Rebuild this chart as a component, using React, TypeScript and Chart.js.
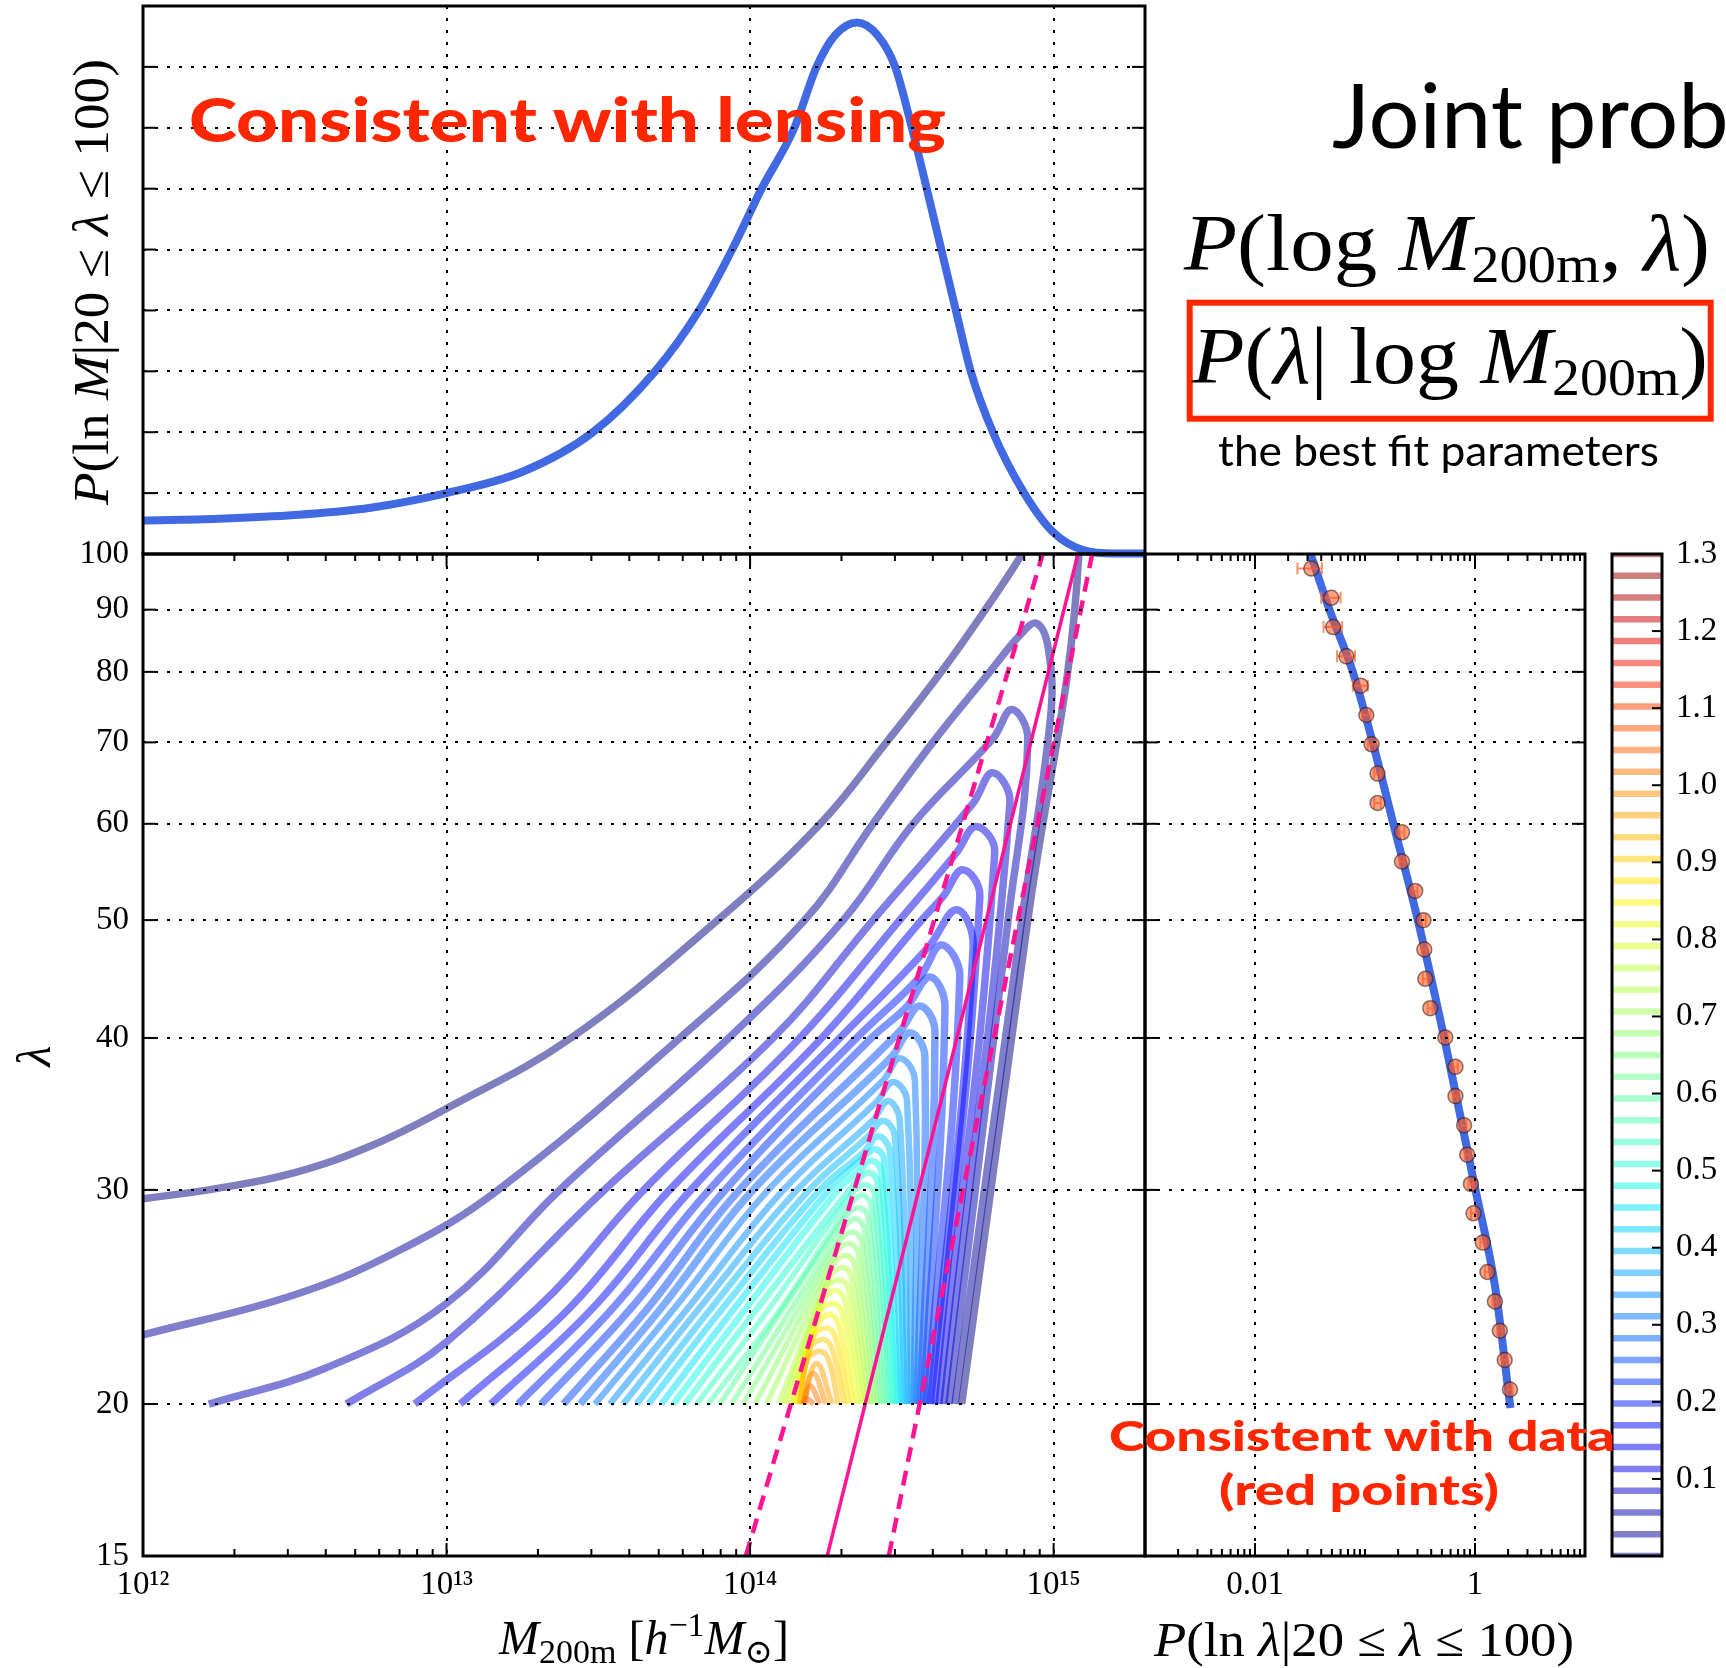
import React, { useEffect, useRef } from "react";
import { Chart, registerables } from "chart.js";

Chart.register(...registerables);

const SERIF = "'Liberation Serif', 'DejaVu Serif', serif";
const SANS = "Lato, 'Open Sans', 'Noto Sans', sans-serif";

// ---------------- top panel: P(ln M | 20 <= lambda <= 100) ----------------
const TOP_LOG_M = [12.0, 12.25, 12.5, 12.75, 13.0, 13.25, 13.482, 13.687, 13.832, 13.941, 14.038, 14.146, 14.219, 14.28, 14.352, 14.42, 14.478, 14.533, 14.582, 14.63, 14.678, 14.727, 14.8, 14.903, 15.0, 15.1, 15.2, 15.301];
const TOP_P = [0.055, 0.058, 0.064, 0.076, 0.1, 0.135, 0.2, 0.3, 0.4, 0.5, 0.6, 0.7, 0.8, 0.852, 0.873, 0.852, 0.8, 0.7, 0.6, 0.5, 0.4, 0.3, 0.2, 0.1, 0.035, 0.006, 0.001, 0.001];
const TOP_Y_GRID = [0.1, 0.2, 0.3, 0.4, 0.5, 0.6, 0.7, 0.8];

// ---------------- contour levels (colour bar) ----------------
const CONTOUR_LEVELS = [0, 0.0283, 0.0565, 0.0848, 0.113, 0.1413, 0.1696, 0.1978, 0.2261, 0.2543, 0.2826, 0.3109, 0.3391, 0.3674, 0.3957, 0.4239, 0.4522, 0.4804, 0.5087, 0.537, 0.5652, 0.5935, 0.6217, 0.65, 0.6783, 0.7065, 0.7348, 0.763, 0.7913, 0.8196, 0.8478, 0.8761, 0.9043, 0.9326, 0.9609, 0.9891, 1.0174, 1.0457, 1.0739, 1.1022, 1.1304, 1.1587, 1.187, 1.2152, 1.2435, 1.2717, 1.3];
const CBAR_TICKS = [0.1, 0.2, 0.3, 0.4, 0.5, 0.6, 0.7, 0.8, 0.9, 1.0, 1.1, 1.2, 1.3];

// ---------------- contour lines of P(log M, lambda): [log10 M, lambda] ----------------
// left branch (start at lambda=20 or left edge, grid-line crossings, knee)
const CONTOUR_LEFT = [
  [[12.0, 29.5], [12.25, 30.1], [12.5, 31.0], [12.75, 32.6], [13.0, 35.0], [13.41, 40], [13.893, 50], [14.231, 60], [14.449, 70], [14.63, 80], [14.775, 90], [14.896, 100]],
  [[12.0, 22.8], [12.5, 24.6], [12.85, 26.8], [13.17, 30], [13.769, 40], [14.18, 50], [14.405, 60], [14.602, 70], [14.79, 80], [14.89, 85.8]],
  [[12.217, 20], [12.6, 21.4], [13.0, 24.2], [13.373, 30], [13.93, 40], [14.307, 50], [14.537, 60], [14.8, 70.5]],
  [[12.67, 20], [13.0, 22.5], [13.52, 30], [14.076, 40], [14.405, 50], [14.735, 62.4]],
  [[12.895, 20], [13.3, 24], [13.65, 30], [14.164, 40], [14.493, 50], [14.68, 56.8]],
  [[13.045, 20], [13.406, 24], [13.735, 30], [14.236, 40], [14.565, 50], [14.636, 52.3]],
  [[13.146, 20], [13.483, 24], [13.805, 30], [14.296, 40], [14.587, 47.5]],
  [[13.236, 20], [13.549, 24], [13.865, 30], [14.351, 40], [14.559, 44.9]],
  [[13.312, 20], [13.609, 24], [13.918, 30], [14.4, 40], [14.515, 42.4]],
  [[13.385, 20], [13.664, 24], [13.965, 30], [14.493, 40.5]],
  [[13.44, 20], [13.708, 24], [14.01, 30], [14.466, 38.6]],
  [[13.489, 20], [13.752, 24], [14.06, 30], [14.438, 36.9]],
  [[13.538, 20], [13.796, 24], [14.11, 30], [14.419, 35.5]],
  [[13.582, 20], [13.834, 24], [14.155, 30], [14.403, 34.2]],
  [[13.626, 20], [13.873, 24], [14.195, 30], [14.389, 33.2]],
  [[13.665, 20], [13.911, 24], [14.23, 30], [14.373, 32.2]],
  [[13.708, 20], [13.95, 24], [14.26, 30], [14.368, 31.8]],
  [[13.747, 20], [13.988, 24], [14.29, 30], [14.358, 31.1]],
  [[13.785, 20], [14.026, 24], [14.347, 30.4]],
  [[13.824, 20], [14.065, 24], [14.336, 29.8]],
  [[13.862, 20], [14.103, 24], [14.326, 29.1]],
  [[13.9, 20], [14.315, 28.5]],
  [[13.939, 20], [14.304, 27.8]],
  [[13.977, 20], [14.294, 27.2]],
  [[14.016, 20], [14.283, 26.6]],
  [[14.054, 20], [14.272, 26.0]],
  [[14.093, 20], [14.262, 25.4]],
  [[14.11, 20], [14.251, 24.9]],
  [[14.125, 20], [14.24, 24.3]],
  [[14.138, 20], [14.229, 23.8]],
  [[14.148, 20], [14.219, 23.2]],
  [[14.156, 20], [14.208, 22.7]],
  [[14.162, 20], [14.197, 22.2]],
  [[14.167, 20], [14.187, 21.7]],
  [[14.171, 20]],
  [[14.174, 20]],
  [[14.177, 20]],
  [[14.179, 20]],
];
const CONTOUR_PEAK = [
  [14.99, 110], [14.944, 87.7], [14.862, 74.5], [14.798, 66.1], [14.744, 59.7], [14.7, 55.0], [14.68, 51.0], [14.63, 47.7],
  [14.592, 44.9], [14.559, 42.5], [14.526, 40.4], [14.493, 38.5], [14.471, 36.8], [14.455, 35.5], [14.438, 34.2], [14.422, 33.2],
  [14.411, 32.4], [14.401, 31.7], [14.39, 31.0], [14.379, 30.3], [14.369, 29.7], [14.358, 29.0], [14.347, 28.4], [14.337, 27.7],
  [14.326, 27.1], [14.315, 26.5], [14.305, 25.9], [14.294, 25.3], [14.283, 24.8], [14.272, 24.2], [14.262, 23.7], [14.251, 23.1],
  [14.24, 22.6], [14.23, 22.1], [14.219, 21.6], [14.208, 21.2], [14.198, 20.7], [14.187, 20.2],
];
// right branch (shoulder, crossings, end at lambda=20)
const CONTOUR_RIGHT = [
  [[15.083, 100], [14.915, 50], [14.697, 20]],
  [[14.983, 83.5], [14.99, 73.5], [14.895, 50], [14.675, 20]],
  [[14.915, 70.4], [14.85, 50], [14.655, 20]],
  [[14.856, 62.4], [14.638, 20]],
  [[14.806, 56.8], [14.622, 20]],
  [[14.757, 52.3], [14.607, 20]],
  [[14.735, 47.5], [14.594, 20]],
  [[14.691, 44.9], [14.582, 20]],
  [[14.642, 42.4], [14.571, 20]],
  [[14.609, 40.5], [14.56, 20]],
  [[14.576, 38.6], [14.55, 20]],
  [[14.543, 36.9], [14.54, 20]],
  [[14.517, 35.5], [14.53, 20]],
  [[14.493, 34.2], [14.52, 20]],
  [[14.477, 33.2], [14.51, 20]],
  [[14.461, 32.2], [14.5, 20]],
  [[14.441, 31.8], [14.49, 20]],
  [[14.431, 31.1], [14.48, 20]],
  [[14.42, 30.4], [14.47, 20]],
  [[14.409, 29.8], [14.46, 20]],
  [[14.399, 29.1], [14.45, 20]],
  [[14.388, 28.5], [14.44, 20]],
  [[14.377, 27.8], [14.43, 20]],
  [[14.367, 27.2], [14.42, 20]],
  [[14.356, 26.6], [14.41, 20]],
  [[14.345, 26.0], [14.4, 20]],
  [[14.335, 25.4], [14.39, 20]],
  [[14.324, 24.9], [14.38, 20]],
  [[14.313, 24.3], [14.37, 20]],
  [[14.302, 23.8], [14.355, 20]],
  [[14.292, 23.2], [14.34, 20]],
  [[14.281, 22.7], [14.325, 20]],
  [[14.27, 22.2], [14.31, 20]],
  [[14.26, 21.7], [14.29, 20]],
  [[14.27, 20]],
  [[14.25, 20]],
  [[14.23, 20]],
  [[14.21, 20]],
];

// mean relation and its scatter (pink lines)
const PINK_LAMBDA = [15, 100];
const PINK_SOLID_LOGM = [14.254, 15.08];
const PINK_DASH_LO_LOGM = [13.986, 14.964];
const PINK_DASH_HI_LOGM = [14.457, 15.127];

// ---------------- right panel: P(ln lambda | 20 <= lambda <= 100) ----------------
const RIGHT_CURVE_P = [0.032, 0.0475, 0.0775, 0.1175, 0.181, 0.302, 0.525, 1.01, 1.52, 2.1];
const RIGHT_CURVE_LAMBDA = [100, 90, 80, 70, 60, 50, 40, 30, 25, 19.85];
const DATA_LAMBDA = [20.56, 21.74, 22.98, 24.29, 25.68, 27.15, 28.7, 30.34, 32.07, 33.9, 35.83, 37.87, 40.04, 42.32, 44.74, 47.29, 49.99, 52.84, 55.86, 59.04, 62.41, 65.98, 69.74, 73.72, 77.93, 82.38, 87.08, 92.04, 97.28];
const DATA_P = [2.08, 1.862, 1.681, 1.518, 1.296, 1.178, 0.969, 0.918, 0.849, 0.796, 0.664, 0.664, 0.537, 0.392, 0.354, 0.346, 0.34, 0.286, 0.217, 0.217, 0.13, 0.13, 0.1148, 0.1028, 0.0914, 0.0678, 0.0514, 0.0494, 0.0325];
const DATA_P_LO = [1.976, 1.769, 1.597, 1.442, 1.231, 1.119, 0.921, 0.872, 0.807, 0.756, 0.631, 0.631, 0.51, 0.372, 0.336, 0.329, 0.323, 0.272, 0.206, 0.206, 0.121, 0.121, 0.106, 0.094, 0.0775, 0.0557, 0.042, 0.04, 0.0243];
const DATA_P_HI = [2.184, 1.955, 1.765, 1.594, 1.361, 1.237, 1.017, 0.964, 0.891, 0.836, 0.697, 0.697, 0.564, 0.412, 0.372, 0.363, 0.357, 0.3, 0.228, 0.228, 0.139, 0.139, 0.124, 0.112, 0.106, 0.0811, 0.062, 0.06, 0.0406];

// ---------------- axes ----------------
const MAIN_X_TICKS = [1e12, 1e13, 1e14, 1e15];
const MAIN_X_LABELS = ["10\u00b9\u00b2", "10\u00b9\u00b3", "10\u00b9\u2074", "10\u00b9\u2075"];
const MAIN_Y_TICKS = [15, 20, 30, 40, 50, 60, 70, 80, 90, 100];
const LAMBDA_GRID = [20, 30, 40, 50, 60, 70, 80, 90];
const RIGHT_X_TICKS = [0.01, 1];
const RIGHT_X_LABELS = ["0.01", "1"];

function logMinors(d0: number, d1: number, max: number) {
  const out: number[] = [];
  for (let d = d0; d <= d1; d++) for (let m = 2; m <= 9; m++) { const v = m * Math.pow(10, d); if (v < max) out.push(v); }
  return out;
}

// matplotlib "jet" colormap
const JET_R = [[0, 0], [0.35, 0], [0.66, 1], [0.89, 1], [1, 0.5]];
const JET_G = [[0, 0], [0.125, 0], [0.375, 1], [0.64, 1], [0.91, 0], [1, 0]];
const JET_B = [[0, 0.5], [0.11, 1], [0.34, 1], [0.65, 0], [1, 0]];
function seg(s: number[][], t: number) {
  for (let i = 0; i < s.length - 1; i++) {
    const [x0, y0] = s[i];
    const [x1, y1] = s[i + 1];
    if (t <= x1) return y0 + ((y1 - y0) * (t - x0)) / (x1 - x0);
  }
  return s[s.length - 1][1];
}
function jet(t: number, a: number) {
  const c = Math.max(0, Math.min(1, t));
  return `rgba(${Math.round(255 * seg(JET_R, c))},${Math.round(255 * seg(JET_G, c))},${Math.round(255 * seg(JET_B, c))},${a})`;
}

const pt = (lm: number, l: number) => ({ x: Math.pow(10, lm), y: l });

// force exact axis box sizes, no automatic label padding
const fitTo = (dim: "width" | "height", size: number) => (s: any) => {
  s[dim] = size;
  s.paddingTop = 0; s.paddingBottom = 0; s.paddingLeft = 0; s.paddingRight = 0;
};

function framePlugin(o: any) {
  return {
    id: "frame",
    afterDatasetsDraw(chart: any) {
      const { ctx, chartArea: a } = chart;
      const xs = chart.scales.x;
      const ys = chart.scales.y;
      const line = (x0: number, y0: number, x1: number, y1: number) => {
        ctx.beginPath();
        ctx.moveTo(x0, y0);
        ctx.lineTo(x1, y1);
        ctx.stroke();
      };
      ctx.save();
      ctx.strokeStyle = "#000";
      ctx.lineWidth = 2;
      ctx.setLineDash([3, 9]);
      (o.xGrid || []).forEach((v: number) => { const p = Math.round(xs.getPixelForValue(v)); line(p, a.top, p, a.bottom); });
      (o.yGrid || []).forEach((v: number) => { const p = Math.round(ys.getPixelForValue(v)); line(a.left, p, a.right, p); });
      ctx.setLineDash([]);
      ctx.lineWidth = 2;
      const xt = (vals: number[], len: number) => vals.forEach((v) => {
        const p = xs.getPixelForValue(v);
        if ((o.xSides || []).includes("bottom")) line(p, a.bottom, p, a.bottom - len);
        if ((o.xSides || []).includes("top")) line(p, a.top, p, a.top + len);
      });
      const yt = (vals: number[], len: number) => vals.forEach((v) => {
        const p = ys.getPixelForValue(v);
        if ((o.ySides || []).includes("left")) line(a.left, p, a.left + len, p);
        if ((o.ySides || []).includes("right")) line(a.right, p, a.right - len, p);
      });
      xt(o.xMajor || [], 13);
      xt(o.xMinor || [], 7);
      yt(o.yMajor || [], o.yLen || 13);
      ctx.lineWidth = 3;
      ctx.strokeRect(a.left, a.top, a.right - a.left, a.bottom - a.top);
      ctx.restore();
    },
  };
}

const baseOptions = (padding: any) => ({
  animation: false as const,
  responsive: false,
  devicePixelRatio: 1,
  events: [] as any[],
  layout: { padding, autoPadding: false },
  plugins: { legend: { display: false }, tooltip: { enabled: false } },
  elements: { point: { radius: 0 }, line: { capBezierPoints: false } },
});

const tickFont = { family: SERIF, size: 33 };

export default function App() {
  const topRef = useRef<HTMLCanvasElement>(null);
  const mainRef = useRef<HTMLCanvasElement>(null);
  const rightRef = useRef<HTMLCanvasElement>(null);
  const cbarRef = useRef<HTMLCanvasElement>(null);

  useEffect(() => {
    const charts: any[] = [];

    // ---- top panel ----
    charts.push(new Chart(topRef.current as any, {
      type: "line",
      data: {
        datasets: [{
          data: TOP_LOG_M.map((lm, i) => pt(lm, TOP_P[i])),
          borderColor: "#4169e1", borderWidth: 8, pointRadius: 0, cubicInterpolationMode: "monotone", clip: 8, fill: false,
        }],
      },
      options: {
        ...baseOptions({ left: 0, top: 6, right: 15, bottom: 6 }),
        scales: {
          x: {
            type: "logarithmic", min: 1e12, max: 2e15,
            grid: { display: false, drawTicks: false }, border: { display: false },
            ticks: { display: false },
            afterFit: fitTo("height", 0),
          },
          y: {
            type: "linear", min: 0, max: 0.9,
            grid: { display: false, drawTicks: false }, border: { display: false },
            ticks: { display: false },
            afterFit: fitTo("width", 143),
          },
        },
      } as any,
      plugins: [framePlugin({ xGrid: [1e13, 1e14, 1e15], yGrid: TOP_Y_GRID, yMajor: TOP_Y_GRID, ySides: ["left", "right"] })],
    } as any));

    // ---- main panel ----
    const contourSets = CONTOUR_PEAK.map((peak, k) => ({
      data: [...CONTOUR_LEFT[k], peak, ...CONTOUR_RIGHT[k]].map((p: any) => pt(p[0], p[1])),
      borderColor: jet(CONTOUR_LEVELS[k] / 1.3, 0.5),
      borderWidth: k <= 10 ? 7.5 : k <= 18 ? 6.5 : 5.5,
      tension: 0.4, pointRadius: 0, clip: 0, fill: false, order: 200 - k,
      borderCapStyle: "butt", borderJoinStyle: "round",
    }));
    const pink = (lms: number[], dash: number[], w: number) => ({
      data: lms.map((lm, i) => pt(lm, PINK_LAMBDA[i])),
      borderColor: "rgb(255,20,147)", borderWidth: w, borderDash: dash, tension: 0, pointRadius: 0, clip: 0, fill: false, order: 0,
    });
    charts.push(new Chart(mainRef.current as any, {
      type: "line",
      data: {
        datasets: [
          ...contourSets,
          pink(PINK_SOLID_LOGM, [], 3.5),
          pink(PINK_DASH_LO_LOGM, [15, 9], 4.5),
          pink(PINK_DASH_HI_LOGM, [15, 9], 4.5),
        ],
      },
      options: {
        ...baseOptions({ left: 0, top: 14, right: 15, bottom: 0 }),
        scales: {
          x: {
            type: "logarithmic", min: 1e12, max: 2e15,
            grid: { display: false, drawTicks: false }, border: { display: false },
            afterBuildTicks: (s: any) => { s.ticks = MAIN_X_TICKS.map((v) => ({ value: v })); },
            afterFit: fitTo("height", 112),
            ticks: {
              font: tickFont, color: "#000", padding: 10, autoSkip: false, maxRotation: 0, minRotation: 0,
              callback: (_v: any, i: number) => MAIN_X_LABELS[i],
            },
          },
          y: {
            type: "logarithmic", min: 15, max: 100,
            grid: { display: false, drawTicks: false }, border: { display: false },
            afterBuildTicks: (s: any) => { s.ticks = MAIN_Y_TICKS.map((v) => ({ value: v })); },
            afterFit: fitTo("width", 143),
            ticks: { font: tickFont, color: "#000", padding: 14, autoSkip: false, callback: (_v: any, i: number) => String(MAIN_Y_TICKS[i]) },
          },
        },
      } as any,
      plugins: [framePlugin({
        xGrid: [1e13, 1e14, 1e15], yGrid: LAMBDA_GRID,
        xMajor: MAIN_X_TICKS, xMinor: logMinors(12, 15, 2e15), xSides: ["bottom", "top"],
        yMajor: LAMBDA_GRID, ySides: ["left", "right"],
      })],
    } as any));

    // ---- right panel ----
    const errorBars = {
      id: "errorBars",
      afterDatasetDraw(chart: any, args: any) {
        if (args.index !== 0) return;
        const { ctx } = chart;
        const xs = chart.scales.x;
        const ys = chart.scales.y;
        ctx.save();
        ctx.strokeStyle = "rgba(255,110,60,0.75)";
        ctx.lineWidth = 2;
        DATA_LAMBDA.forEach((l, i) => {
          const y = ys.getPixelForValue(l);
          const x0 = xs.getPixelForValue(DATA_P_LO[i]);
          const x1 = xs.getPixelForValue(DATA_P_HI[i]);
          ctx.beginPath();
          ctx.moveTo(x0, y); ctx.lineTo(x1, y);
          ctx.moveTo(x0, y - 6); ctx.lineTo(x0, y + 6);
          ctx.moveTo(x1, y - 6); ctx.lineTo(x1, y + 6);
          ctx.stroke();
        });
        ctx.restore();
      },
    };
    charts.push(new Chart(rightRef.current as any, {
      type: "line",
      data: {
        datasets: [
          {
            data: RIGHT_CURVE_P.map((p, i) => ({ x: p, y: RIGHT_CURVE_LAMBDA[i] })),
            borderColor: "#4169e1", borderWidth: 8, pointRadius: 0, cubicInterpolationMode: "monotone", clip: 4, fill: false, order: 1,
          },
          {
            data: DATA_P.map((p, i) => ({ x: p, y: DATA_LAMBDA[i] })),
            showLine: false, pointRadius: 7.5, pointBackgroundColor: "rgba(255,85,30,0.55)",
            pointBorderColor: "rgba(40,20,20,0.55)", pointBorderWidth: 1.5, clip: 10, order: 0,
          },
        ],
      },
      options: {
        ...baseOptions({ left: 45, top: 14, right: 55, bottom: 0 }),
        scales: {
          x: {
            type: "logarithmic", min: 0.001, max: 10,
            grid: { display: false, drawTicks: false }, border: { display: false },
            afterBuildTicks: (s: any) => { s.ticks = RIGHT_X_TICKS.map((v) => ({ value: v })); },
            afterFit: fitTo("height", 112),
            ticks: { font: tickFont, color: "#000", padding: 10, autoSkip: false, maxRotation: 0, minRotation: 0, callback: (_v: any, i: number) => RIGHT_X_LABELS[i] },
          },
          y: {
            type: "logarithmic", min: 15, max: 100,
            grid: { display: false, drawTicks: false }, border: { display: false },
            ticks: { display: false },
            afterFit: fitTo("width", 0),
          },
        },
      } as any,
      plugins: [errorBars, framePlugin({
        xGrid: RIGHT_X_TICKS, yGrid: LAMBDA_GRID,
        xMajor: RIGHT_X_TICKS, xMinor: [...logMinors(-3, 0, 10), 0.1], xSides: ["bottom", "top"],
        yMajor: LAMBDA_GRID, ySides: ["left", "right"],
      })],
    } as any));

    // ---- colour bar ----
    charts.push(new Chart(cbarRef.current as any, {
      type: "line",
      data: {
        datasets: CONTOUR_LEVELS.map((lv) => ({
          data: [{ x: 0, y: lv }, { x: 1, y: lv }],
          borderColor: jet(lv / 1.3, 0.5), borderWidth: 6.5, pointRadius: 0, clip: 0, fill: false,
        })),
      },
      options: {
        ...baseOptions({ left: 12, top: 14, right: 0, bottom: 112 }),
        scales: {
          x: { type: "linear", min: 0, max: 1, display: false },
          y: {
            type: "linear", min: 0, max: 1.3, position: "right",
            grid: { display: false, drawTicks: false }, border: { display: false },
            afterBuildTicks: (s: any) => { s.ticks = CBAR_TICKS.map((v) => ({ value: v })); },
            afterFit: fitTo("width", 64),
            ticks: { font: tickFont, color: "#000", padding: 14, autoSkip: false, callback: (_v: any, i: number) => CBAR_TICKS[i].toFixed(1) },
          },
        },
      } as any,
      plugins: [framePlugin({ yMajor: CBAR_TICKS.slice(0, 12), ySides: ["right"], yLen: 10 })],
    } as any));

    return () => charts.forEach((c) => c.destroy());
  }, []);

  const RED = "rgb(255,38,0)";
  const cv = (left: number, top: number) => ({ position: "absolute" as const, left, top });

  return (
    <div style={{ position: "absolute", left: 0, top: 0, width: 1726, height: 1668, overflow: "hidden", background: "#fff" }}>
      <canvas ref={topRef} width={1160} height={560} style={cv(0, 0)} />
      <canvas ref={mainRef} width={1160} height={1128} style={cv(0, 540)} />
      <canvas ref={rightRef} width={540} height={1128} style={cv(1100, 540)} />
      <canvas ref={cbarRef} width={126} height={1128} style={cv(1600, 540)} />
      <svg width={1726} height={1668} style={{ position: "absolute", left: 0, top: 0, pointerEvents: "none" }}>
        {/* axis titles */}
        <text transform="translate(108,282) rotate(-90)" textAnchor="middle" fontFamily={SERIF} fontSize={50} fill="#000" textLength={446} lengthAdjust="spacingAndGlyphs">
          <tspan fontStyle="italic">P</tspan>(ln <tspan fontStyle="italic">M</tspan>|20 ≤ <tspan fontStyle="italic">λ</tspan> ≤ 100)
        </text>
        <text transform="translate(50,1056) rotate(-90)" textAnchor="middle" fontFamily={SERIF} fontSize={48} fontStyle="italic" fill="#000">λ</text>
        <text x={644} y={1654} textAnchor="middle" fontFamily={SERIF} fontSize={48} fill="#000">
          <tspan fontStyle="italic">M</tspan><tspan dy={9} fontSize={34}>200m</tspan><tspan dy={-9}> [</tspan><tspan fontStyle="italic">h</tspan><tspan dy={-18} fontSize={34}>−1</tspan><tspan dy={18} fontStyle="italic">M</tspan><tspan dy={9} fontSize={34}>⊙</tspan><tspan dy={-9}>]</tspan>
        </text>
        <text x={1364} y={1656} textAnchor="middle" fontFamily={SERIF} fontSize={48} fill="#000" textLength={420} lengthAdjust="spacingAndGlyphs">
          <tspan fontStyle="italic">P</tspan>(ln <tspan fontStyle="italic">λ</tspan>|20 ≤ <tspan fontStyle="italic">λ</tspan> ≤ 100)
        </text>

        {/* annotations */}
        <text x={189} y={142} fontFamily={SANS} fontWeight={900} fontSize={60} fill={RED} textLength={757} lengthAdjust="spacingAndGlyphs">Consistent with lensing</text>
        <text x={1362} y={1451} textAnchor="middle" fontFamily={SANS} fontWeight={900} fontSize={41} fill={RED} textLength={506} lengthAdjust="spacingAndGlyphs">Consistent with data</text>
        <text x={1359} y={1505} textAnchor="middle" fontFamily={SANS} fontWeight={900} fontSize={41} fill={RED} textLength={280} lengthAdjust="spacingAndGlyphs">(red points)</text>

        <text x={1332} y={148} fontFamily={SANS} fontSize={90} fill="#000">Joint prob</text>
        <text x={1184} y={270} fontFamily={SERIF} fontSize={80} fill="#000" textLength={526} lengthAdjust="spacingAndGlyphs">
          <tspan fontStyle="italic">P</tspan>(log <tspan fontStyle="italic">M</tspan><tspan dy={12} fontSize={52}>200m</tspan><tspan dy={-12}>, </tspan><tspan fontStyle="italic">λ</tspan>)
        </text>
        <rect x={1189.7} y={302.7} width={521} height={116} fill="none" stroke={RED} strokeWidth={6} />
        <text x={1192} y={383} fontFamily={SERIF} fontSize={80} fill="#000" textLength={516} lengthAdjust="spacingAndGlyphs">
          <tspan fontStyle="italic">P</tspan>(<tspan fontStyle="italic">λ</tspan>| log <tspan fontStyle="italic">M</tspan><tspan dy={12} fontSize={52}>200m</tspan><tspan dy={-12}>)</tspan>
        </text>
        <text x={1218} y={466} fontFamily={SANS} fontSize={42} fill="#000" textLength={441} lengthAdjust="spacingAndGlyphs">the best fit parameters</text>
      </svg>
    </div>
  );
}
